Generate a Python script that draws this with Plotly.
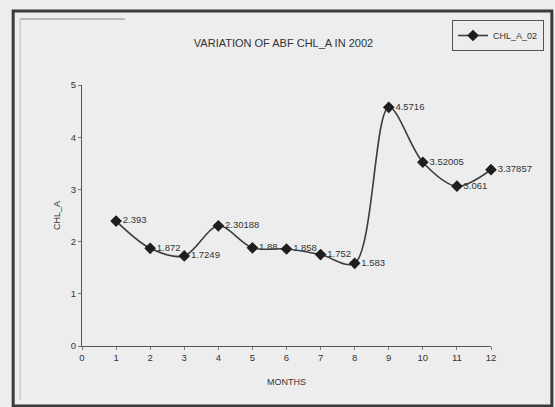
import plotly.graph_objects as go

months = [1, 2, 3, 4, 5, 6, 7, 8, 9, 10, 11, 12]
chl_a = [2.393, 1.872, 1.7249, 2.30188, 1.88, 1.858, 1.752, 1.583, 4.5716, 3.52005, 3.061, 3.37857]
value_labels = ["2.393", "1.872", "1.7249", "2.30188", "1.88", "1.858", "1.752", "1.583",
                "4.5716", "3.52005", "3.061", "3.37857"]
x_ticks = [0, 1, 2, 3, 4, 5, 6, 7, 8, 9, 10, 11, 12]
y_ticks = [0, 1, 2, 3, 4, 5]
series_name = "CHL_A_02"
title_text = "VARIATION OF ABF CHL_A IN 2002"

W, H = 555, 407
L, R, T, B = 82, 63, 85, 61
PW, PH = W - L - R, H - T - B


def px(x):
    return (x - L) / PW


def py(y):
    return (H - B - y) / PH


FONT = "Liberation Sans Narrow, Liberation Sans, Arial, sans-serif"
TXT = "#333333"
BG = "#ededed"

fig = go.Figure()
fig.add_trace(go.Scatter(
    x=months, y=chl_a, name=series_name,
    mode="lines+markers+text",
    text=value_labels, textposition="middle right",
    textfont=dict(family=FONT, size=9.5, color=TXT),
    line=dict(color="#3c3c3c", width=1.6, shape="spline", smoothing=0.9),
    marker=dict(symbol="diamond", size=9, color="#1e1e1e"),
    cliponaxis=False,
))

fig.update_layout(
    width=W, height=H,
    margin=dict(l=L, r=R, t=T, b=B),
    paper_bgcolor=BG, plot_bgcolor=BG,
    font=dict(family=FONT, size=10, color=TXT),
    title=dict(text=title_text, x=px(284), xref="paper", xanchor="center",
               y=1 - 43 / H, yref="container", yanchor="middle",
               font=dict(family=FONT, size=11, color=TXT)),
    showlegend=True,
    legend=dict(x=px(452), y=py(20), xanchor="left", yanchor="top",
                bgcolor=BG, bordercolor="#555555", borderwidth=1,
                font=dict(family=FONT, size=9, color=TXT),
                itemwidth=30, tracegroupgap=0),
    xaxis=dict(range=[0, 12], tickvals=x_ticks, showgrid=False, zeroline=False,
               showline=True, linecolor="#555555", linewidth=1,
               ticks="outside", ticklen=3, tickcolor="#777777",
               tickfont=dict(family=FONT, size=9.5, color=TXT),
               title=dict(text="MONTHS", font=dict(family=FONT, size=9, color=TXT), standoff=16)),
    yaxis=dict(range=[0, 5], tickvals=y_ticks, showgrid=False, zeroline=False,
               showline=True, linecolor="#555555", linewidth=1,
               ticks="outside", ticklen=3, tickcolor="#777777",
               tickfont=dict(family=FONT, size=9.5, color=TXT),
               title=dict(text="CHL_A", font=dict(family=FONT, size=9, color=TXT), standoff=8)),
)

# outer thick frame
fig.add_shape(type="rect", xref="paper", yref="paper",
              x0=px(13), x1=px(553), y0=py(406), y1=py(11),
              line=dict(color="#3a3a3a", width=3), layer="above")
# faint inner frame segment
fig.add_shape(type="line", xref="paper", yref="paper",
              x0=px(20), x1=px(125), y0=py(19), y1=py(19),
              line=dict(color="#888888", width=1))
fig.add_shape(type="line", xref="paper", yref="paper",
              x0=px(20), x1=px(20), y0=py(19), y1=py(400),
              line=dict(color="#bbbbbb", width=1))

fig.write_html("out.html")
